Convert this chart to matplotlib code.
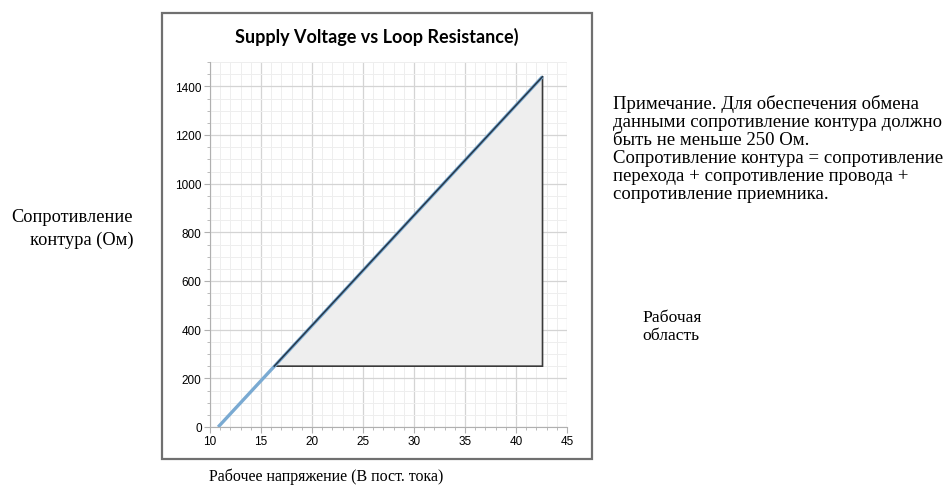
import matplotlib.pyplot as plt
from matplotlib.patches import Rectangle, Polygon
from matplotlib.ticker import MultipleLocator

# supply voltage line (V, Ohm)
line_v = [10.8, 42.6]
line_r = [0, 1440]
# operating region (triangle)
region_v = [16.3, 42.6, 42.6]
region_r = [250, 1440, 250]

W, H = 946, 489
fig = plt.figure(figsize=(W / 100, H / 100), dpi=100)

# chart frame
fig.patches.append(Rectangle((162 / W, 1 - 460 / H), (592 - 162) / W, (460 - 14) / H,
                             transform=fig.transFigure, fill=False,
                             edgecolor='#707070', linewidth=1.6))

ax = fig.add_axes([210 / W, 1 - 428 / H, 357 / W, 365 / H])
ax.set_xlim(10, 45)
ax.set_ylim(0, 1500)
ax.xaxis.set_major_locator(MultipleLocator(5))
ax.xaxis.set_minor_locator(MultipleLocator(1))
ax.yaxis.set_major_locator(MultipleLocator(200))
ax.yaxis.set_minor_locator(MultipleLocator(50))
ax.grid(which='major', color='#d4d4d4', linewidth=0.9)
ax.grid(which='minor', color='#eeeeee', linewidth=0.7)
ax.set_axisbelow(True)
for s in ['top', 'right']:
    ax.spines[s].set_visible(False)
for s in ['left', 'bottom']:
    ax.spines[s].set_color('#b0b0b0')
ax.tick_params(which='both', color='#b0b0b0', labelsize=8.5, length=4, pad=2)
ax.tick_params(which='minor', length=2)
for lab in ax.get_xticklabels() + ax.get_yticklabels():
    lab.set_family('Liberation Sans')

poly = Polygon(list(zip(region_v, region_r)), closed=True,
               facecolor='#eeeeee', edgecolor='#3a3a3a', linewidth=1.2, zorder=2)
ax.add_patch(poly)
ax.plot(line_v, line_r, color='#7aaad2', linewidth=2.4, zorder=3,
        solid_capstyle='butt')
ax.plot(region_v[:2], region_r[:2], color='#26384a', linewidth=1.1, zorder=4)

fig.text(377 / W, 1 - 37 / H, 'Supply Voltage vs Loop Resistance)', ha='center', va='center',
         fontsize=13, fontweight='bold', family='Lato')

serif = 'Liberation Serif'
fig.text(133 / W, 1 - 229 / H, 'Сопротивление\nконтура (Ом)', ha='right', va='center',
         fontsize=13.2, family=serif, linespacing=1.4)
fig.text(209 / W, 1 - 477 / H, 'Рабочее напряжение (В пост. тока)', ha='left', va='center',
         fontsize=11.5, family=serif)
fig.text(642 / W, 1 - 327 / H, 'Рабочая\nобласть', ha='left', va='center',
         fontsize=12.6, family=serif, linespacing=1.15)
note = ('Примечание. Для обеспечения обмена\n'
        'данными сопротивление контура должно\n'
        'быть не меньше 250 Ом.\n'
        'Сопротивление контура = сопротивление\n'
        'перехода + сопротивление провода +\n'
        'сопротивление приемника.')
fig.text(613 / W, 1 - 95 / H, note, ha='left', va='top',
         fontsize=13.5, family=serif, linespacing=1.07)

fig.savefig('out.png', dpi=100)
